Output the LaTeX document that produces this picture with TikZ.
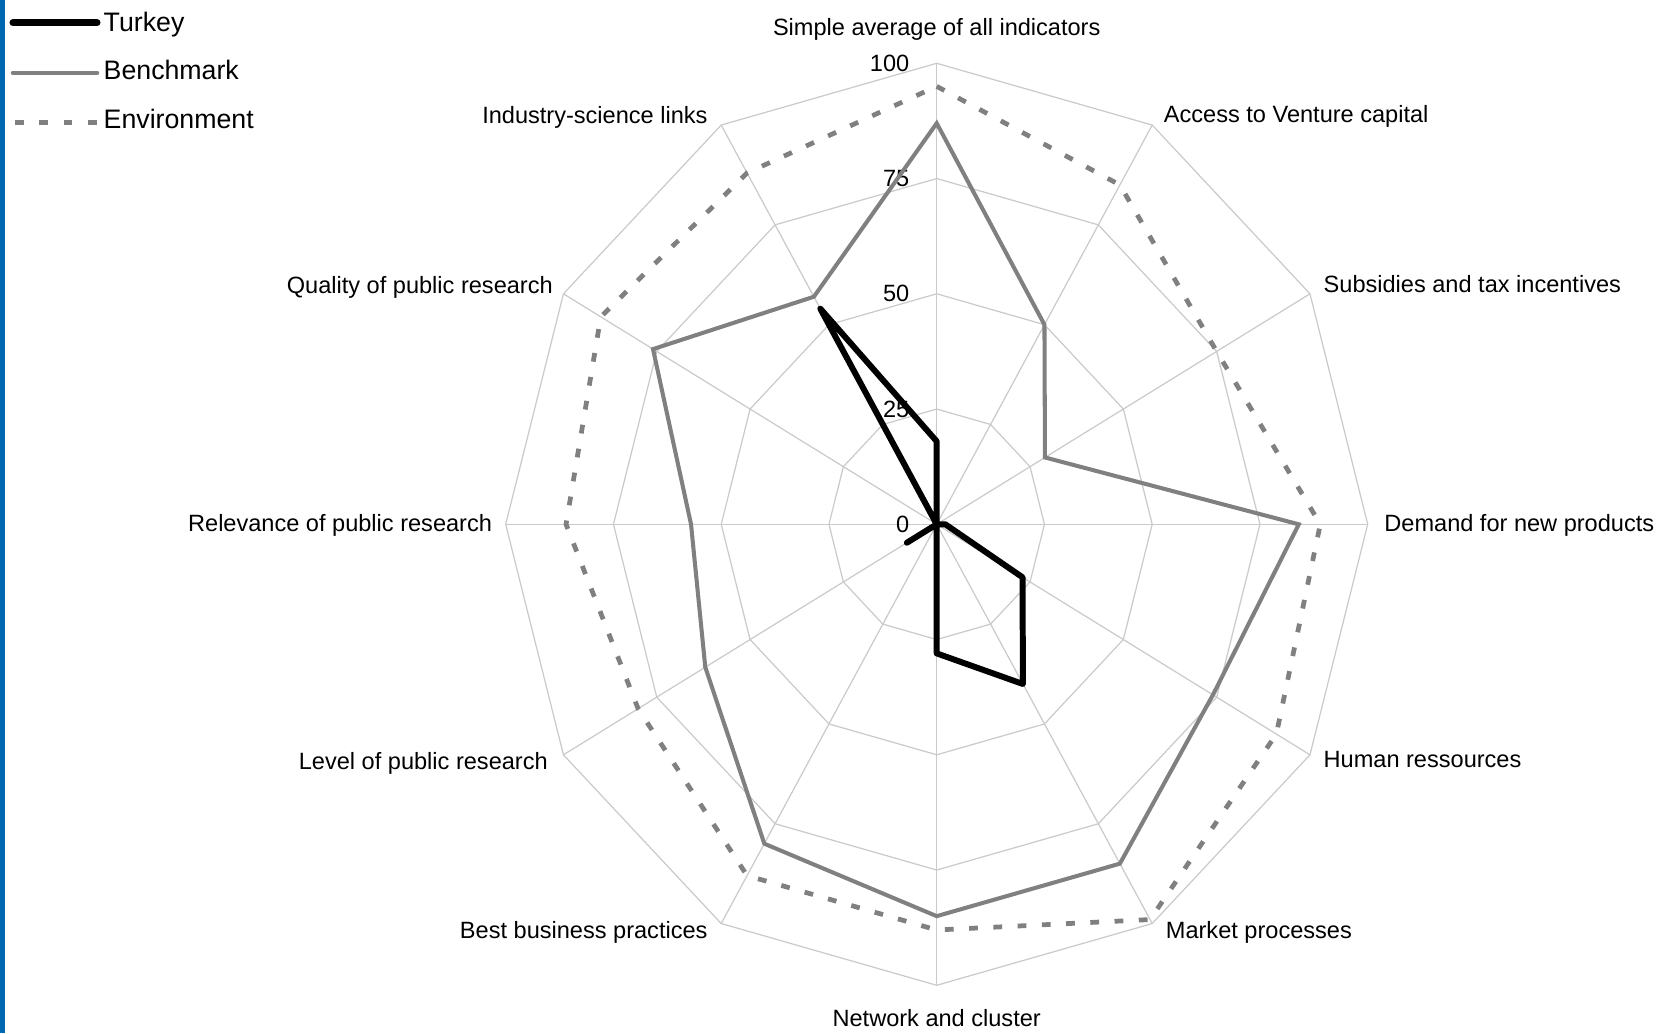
\documentclass[tikz,border=0pt]{standalone}
\usepackage{fontspec}
\setmainfont{Liberation Sans}
\usetikzlibrary{calc}
\definecolor{barblue}{RGB}{0,103,178}
\definecolor{seriesgray}{RGB}{128,128,128}
\definecolor{gridgray}{RGB}{202,202,202}

\begin{document}
\begin{tikzpicture}[x=0.01cm,y=0.01cm,
        gridline/.style={gridgray, line width=0.35pt},
        turkeyline/.style={black, line width=1.7pt, line join=round, line cap=round},
        benchline/.style={seriesgray, line width=1.15pt},
        envline/.style={seriesgray, line width=1.35pt, dash pattern=on 2.5pt off 4.4pt},
        catlabel/.style={font=\fontsize{6.7}{8}\selectfont, inner sep=0pt},
        leglabel/.style={font=\fontsize{7.6}{9}\selectfont, inner sep=0pt},
    ]
    \useasboundingbox (0,0) rectangle (1664,1033);
    \fill[barblue] (0,0) rectangle (4.5,1033);

    \begin{scope}[shift={(936.7,508.7)}, xscale=4.31, yscale=4.61]
        \coordinate (o) at (0,0);
        % web
        \foreach \r in {25,50,75,100}{
            \draw[gridline] (90:\r) \foreach \i in {1,...,11}{ -- (90-30*\i:\r)} -- cycle;
        }
        \foreach \i in {0,...,11}{
            \coordinate (v\i) at (90-30*\i:100);
            \draw[gridline] (o) -- (v\i);
        }
        \foreach \v in {0,25,50,75,100}
            \node[catlabel, anchor=east, xshift=-7.6pt] (tick\v) at (90:\v) {\v};
        % series
        \draw[envline] (90:95)
            \foreach \v [count=\i] in {85,75,89,91,99,88,88,80,86,90,88}{ -- (90-30*\i:\v)} -- cycle;
        \draw[benchline] (90:87)
            \foreach \v [count=\i] in {50,29,84,74,85,85,80,62,57,76,57}{ -- (90-30*\i:\v)} -- cycle;
        \draw[turkeyline] (90:18)
            \foreach \v [count=\i] in {0,0,2,23,40,28,0,8,0,0,54}{ -- (90-30*\i:\v)} -- cycle;
    \end{scope}

    \foreach \i/\ank/\dx/\dy/\txt in {%
        0/base/0/28/{Simple average of all indicators},
        1/base west/11/3/{Access to Venture capital},
        2/base west/13/1/{Subsidies and tax incentives},
        3/base west/16/-7/{Demand for new products},
        4/base west/13/-13/{Human ressources},
        5/base west/13/-15/{Market processes},
        6/base/0/-41/{Network and cluster},
        7/base east/-13/-15/{Best business practices},
        8/base east/-15/-15/{Level of public research},
        9/base east/-13/-7/{Relevance of public research},
        10/base east/-10/0/{Quality of public research},
        11/base east/-13/2/{Industry-science links}%
    }{
        \node[catlabel, anchor=\ank] (cat\i) at ($(v\i)+(\dx,\dy)$) {\txt};
    }

    % legend
    \node[leglabel, anchor=base west] (legturkey) at (103,1001) {Turkey};
    \node[leglabel, anchor=base west] (legbench) at (103,953) {Benchmark};
    \node[leglabel, anchor=base west] (legenv) at (103,904.7) {Environment};
    \draw[turkeyline, line width=2pt] (13,1010.3) -- (97,1010.3);
    \draw[benchline, line width=1.3pt, line cap=round] (13,960) -- (97,960);
    \draw[envline] (15,910.3) -- (97,910.3);
\end{tikzpicture}
\end{document}
